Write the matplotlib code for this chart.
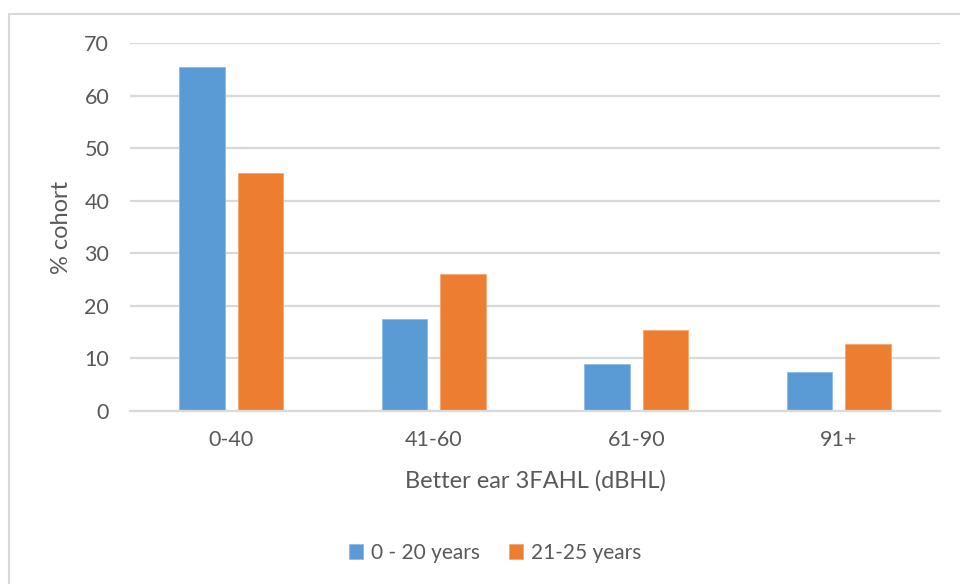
import matplotlib
matplotlib.use("Agg")
import matplotlib.pyplot as plt
from matplotlib.patches import Rectangle
import numpy as np

categories = ["0-40", "41-60", "61-90", "91+"]
series_names = ["0 - 20 years", "21-25 years"]
young = [65.5, 17.6, 8.9, 7.4]
older = [45.3, 26.0, 15.5, 12.8]
y_ticks = [0, 10, 20, 30, 40, 50, 60, 70]

BLUE = "#5B9BD5"
ORANGE = "#ED7D31"
TEXT = "#595959"
GRID = "#D9D9D9"

plt.rcParams["font.family"] = ["Lato", "DejaVu Sans"]

fig = plt.figure(figsize=(9.6, 5.84), dpi=100)
fig.patch.set_facecolor("white")

# chart-area border (extends past the right and bottom edges)
fig.add_artist(Rectangle((8.5 / 960, -0.1), 1.2, 1 - 14.5 / 584 + 0.1,
                         transform=fig.transFigure, fill=False,
                         edgecolor="#D9D9D9", linewidth=1.5))

ax = fig.add_axes([130 / 960, 1 - 411 / 584, 810 / 960, (411 - 43.3) / 584])

x = np.arange(len(categories))
width = 0.225
offset = 0.144
b1 = ax.bar(x - offset, young, width, color=BLUE, label=series_names[0],
            edgecolor="#8DBBE6", linewidth=0.6, zorder=3)
b2 = ax.bar(x + offset, older, width, color=ORANGE, label=series_names[1],
            edgecolor="#F4A672", linewidth=0.6, zorder=3)

ax.set_xlim(-0.5, len(categories) - 0.5)
ax.set_ylim(0, 70)
ax.set_yticks(y_ticks)
ax.set_xticks(x)
ax.set_xticklabels(categories)
ax.yaxis.grid(True, color=GRID, linewidth=1.6, zorder=0)
ax.set_axisbelow(True)
for side in ("top", "right", "left"):
    ax.spines[side].set_visible(False)
ax.spines["bottom"].set_color(GRID)
ax.spines["bottom"].set_linewidth(1.6)
ax.spines["bottom"].set_zorder(4)
ax.tick_params(axis="both", length=0, colors=TEXT, labelsize=15.5)
ax.tick_params(axis="y", pad=15)
ax.tick_params(axis="x", pad=14)

ax.set_xlabel("Better ear 3FAHL (dBHL)", color=TEXT, fontsize=17, labelpad=14)
ax.set_ylabel("% cohort", color=TEXT, fontsize=17, labelpad=9)

leg = fig.legend(handles=[b1, b2], labels=series_names, loc="center",
                 bbox_to_anchor=(495 / 960, 1 - 553 / 584), ncol=2,
                 frameon=False, fontsize=15, handlelength=0.7,
                 handleheight=0.7, handletextpad=0.35, columnspacing=1.4,
                 labelcolor=TEXT)

fig.savefig("out.png", dpi=100, facecolor="white")
